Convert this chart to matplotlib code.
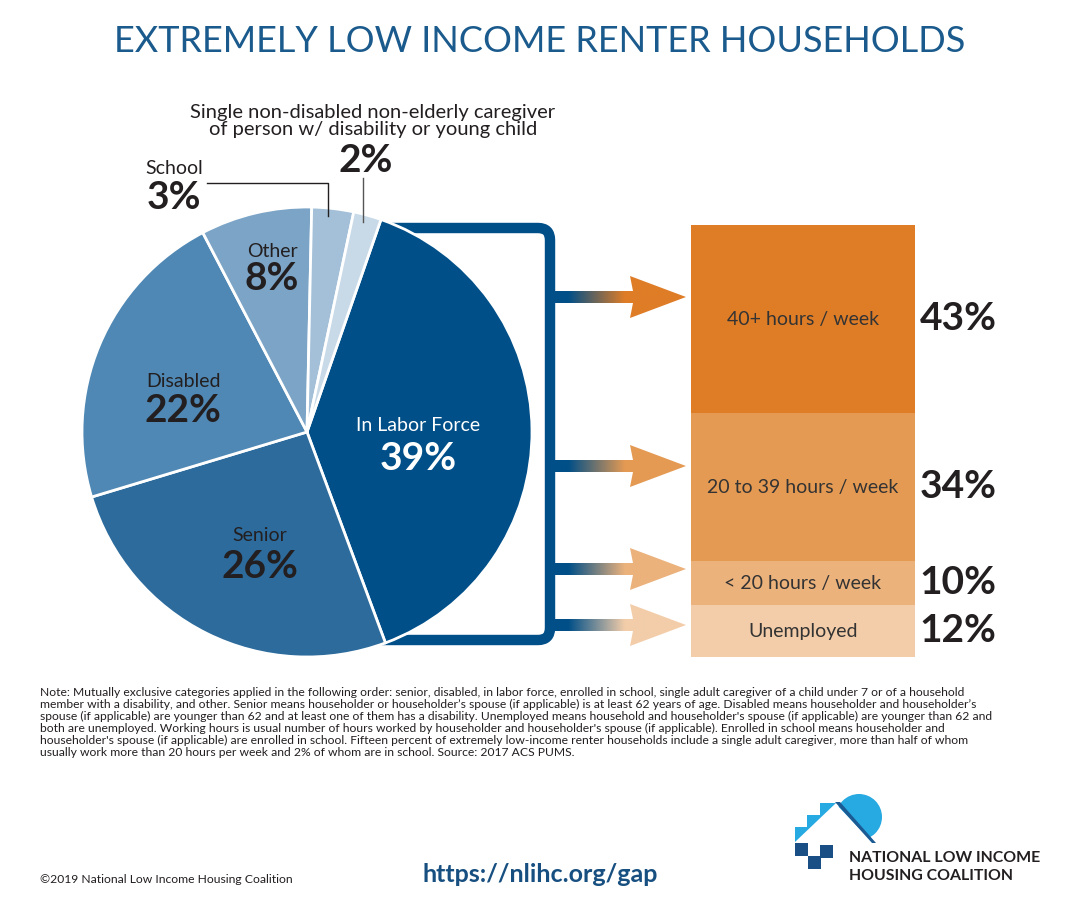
import matplotlib
matplotlib.use("Agg")
import matplotlib.pyplot as plt
import numpy as np
from matplotlib.patches import Polygon, Circle, Rectangle, PathPatch
from matplotlib.path import Path

plt.rcParams['font.family'] = ['Lato', 'DejaVu Sans']

# ---------------- data ----------------
title = "EXTREMELY LOW INCOME RENTER HOUSEHOLDS"
pie_labels = ["In Labor Force", "Senior", "Disabled", "Other", "School",
              "Single non-disabled non-elderly caregiver\nof person w/ disability or young child"]
pie_values = [39, 26, 22, 8, 3, 2]
pie_colors = ["#004f88", "#2c6b9c", "#4f88b4", "#7ba4c6", "#a3c0d8", "#c8d9e8"]

work_labels = ["40+ hours / week", "20 to 39 hours / week", "< 20 hours / week", "Unemployed"]
work_values = [43, 34, 10, 12]
work_colors = ["#df7d27", "#e59a53", "#ecb27c", "#f3cda9"]

note_lines = [
    "Note: Mutually exclusive categories applied in the following order: senior, disabled, in labor force, enrolled in school, single adult caregiver of a child under 7 or of a household",
    "member with a disability, and other. Senior means householder or householder\u2019s spouse (if applicable) is at least 62 years of age. Disabled means householder and householder\u2019s",
    "spouse (if applicable) are younger than 62 and at least one of them has a disability. Unemployed means household and householder's spouse (if applicable) are younger than 62 and",
    "both are unemployed. Working hours is usual number of hours worked by householder and householder's spouse (if applicable). Enrolled in school means householder and",
    "householder's spouse (if applicable) are enrolled in school. Fifteen percent of extremely low-income renter households include a single adult caregiver, more than half of whom",
    "usually work more than 20 hours per week and 2% of whom are in school. Source: 2017 ACS PUMS.",
]
copyright_text = "\u00a92019 National Low Income Housing Coalition"
url_text = "https://nlihc.org/gap"
org_lines = ["NATIONAL LOW INCOME", "HOUSING COALITION"]

# ---------------- figure ----------------
W, H = 1078, 921
fig = plt.figure(figsize=(W / 100, H / 100), dpi=100)
ax = fig.add_axes([0, 0, 1, 1])

DARK = "#231f20"
BLUE = "#004f88"
TITLE_BLUE = "#1a5a8c"
PCT = 28

# bracket (behind pie)
verts = [(330, 228), (538, 228), (550, 228), (550, 240), (550, 628), (550, 640), (538, 640), (330, 640)]
codes = [Path.MOVETO, Path.LINETO, Path.CURVE3, Path.CURVE3, Path.LINETO, Path.CURVE3, Path.CURVE3, Path.LINETO]
ax.add_patch(PathPatch(Path(verts, codes), fill=False, edgecolor=BLUE, lw=7.5,
                       capstyle='butt', joinstyle='round', zorder=1))

# pie (y axis inverted -> data counterclockwise is visually clockwise)
cx, cy, R = 307, 432, 225
wedges, _ = ax.pie(pie_values, colors=pie_colors, startangle=-70.8, counterclock=True,
                   center=(cx, cy), radius=R, frame=True,
                   wedgeprops=dict(edgecolor="white", linewidth=2, zorder=3))

# pie labels
ax.text(418, 425, pie_labels[0], color="white", fontsize=14, ha="center", va="center", zorder=5)
ax.text(418, 458, f"{pie_values[0]}%", color="white", fontsize=PCT, fontweight="bold", ha="center", va="center", zorder=5)
ax.text(260, 535, pie_labels[1], color=DARK, fontsize=14, ha="center", va="center", zorder=5)
ax.text(260, 566, f"{pie_values[1]}%", color=DARK, fontsize=PCT, fontweight="bold", ha="center", va="center", zorder=5)
ax.text(183, 381, pie_labels[2], color=DARK, fontsize=14, ha="center", va="center", zorder=5)
ax.text(183, 410, f"{pie_values[2]}%", color=DARK, fontsize=PCT, fontweight="bold", ha="center", va="center", zorder=5)
ax.text(272, 251, pie_labels[3], color=DARK, fontsize=14, ha="center", va="center", zorder=5)
ax.text(272, 278, f"{pie_values[3]}%", color=DARK, fontsize=PCT, fontweight="bold", ha="center", va="center", zorder=5)
ax.text(174, 168, pie_labels[4], color=DARK, fontsize=14, ha="center", va="center", zorder=5)
ax.text(174, 197, f"{pie_values[4]}%", color=DARK, fontsize=PCT, fontweight="bold", ha="center", va="center", zorder=5)
ax.text(373, 121, pie_labels[5], color=DARK, fontsize=14.5, ha="center", va="center",
        linespacing=0.95, zorder=5)
ax.text(366, 160, f"{pie_values[5]}%", color=DARK, fontsize=PCT, fontweight="bold", ha="center", va="center", zorder=5)

# leader lines
ax.plot([207, 328, 328], [183, 183, 216], color=DARK, lw=1, zorder=6)
ax.plot([363, 363], [178, 222], color="#555555", lw=1, zorder=6)

# stacked bar
scale = 432 / sum(work_values)
top = 225
bottoms = top + scale * np.concatenate([[0], np.cumsum(work_values)[:-1]])
heights = scale * np.array(work_values)
bar_x, bar_w = 803, 224
ax.bar([bar_x] * len(work_values), heights, bottom=bottoms, width=bar_w,
       color=work_colors, edgecolor="none", zorder=2)
for lab, v, b, h in zip(work_labels, work_values, bottoms, heights):
    ax.text(bar_x, b + h / 2 + 1, lab, fontsize=14, color="#333333", ha="center", va="center", zorder=5)
    ax.text(958, b + h / 2, f"{v}%", fontsize=PCT, fontweight="bold", color=DARK,
            ha="center", va="center", zorder=5)

# gradient arrows
arrow_y = [297, 466, 569, 625]
x0, xs, xt = 555, 633, 686
sh, hh = 6, 21
blue_rgb = np.array(matplotlib.colors.to_rgb(BLUE))
for ay, col in zip(arrow_y, work_colors):
    crgb = np.array(matplotlib.colors.to_rgb(col))
    poly = Polygon([(x0, ay - sh), (xs, ay - sh), (xs - 3, ay - hh), (xt, ay),
                    (xs - 3, ay + hh), (xs, ay + sh), (x0, ay + sh)],
                   closed=True, facecolor="none", edgecolor="none", zorder=4)
    ax.add_patch(poly)
    xx = np.linspace(x0, xt, 200)
    t = np.clip((xx - 568) / (625 - 568), 0, 1)
    img = (1 - t)[:, None] * blue_rgb + t[:, None] * crgb
    img = img[None, :, :]
    im = ax.imshow(img, extent=(x0, xt, ay + hh, ay - hh), aspect="auto",
                   interpolation="bilinear", zorder=4)
    im.set_clip_path(poly)

# title
ax.text(540, 42, title, fontsize=26, color=TITLE_BLUE, ha="center", va="center")

# note
for i, line in enumerate(note_lines):
    ax.text(40, 692 + 12 * i, line, fontsize=8.7, color=DARK, ha="left", va="center")

# footer
ax.text(40, 879, copyright_text, fontsize=8.7, color=DARK, ha="left", va="center")
ax.text(540, 874, url_text, fontsize=18, fontweight="bold", color="#174f80", ha="center", va="center")

# logo
LB = "#27a9e1"
DB = "#1b5a93"
ax.add_patch(Circle((859, 817), 23, facecolor=LB, edgecolor="none", zorder=6))
ax.add_patch(Polygon([(834, 802), (878, 848), (834, 848)], closed=True,
                     facecolor="white", edgecolor="none", zorder=7))
ax.add_patch(Polygon([(795, 842), (795, 827), (807, 827), (807, 815), (820, 815),
                      (820, 803), (836, 803), (795, 842)], closed=True,
                     facecolor=LB, edgecolor="none", zorder=8))
ax.add_patch(Polygon([(835, 802), (840, 802), (876, 843), (872, 843)], closed=True,
                     facecolor=DB, edgecolor="none", zorder=8))
for (rx, ry) in [(795, 843), (808, 856), (820, 845)]:
    ax.add_patch(Rectangle((rx, ry), 12.5, 12.5, facecolor="#1a4f86", edgecolor="none", zorder=8))
ax.text(849, 858, org_lines[0], fontsize=11.4, fontweight="bold", color=DARK, ha="left", va="center")
ax.text(849, 876, org_lines[1], fontsize=11.4, fontweight="bold", color=DARK, ha="left", va="center")

ax.set_xlim(0, W)
ax.set_ylim(H, 0)
ax.set_aspect("equal")
ax.axis("off")

fig.savefig("out.png", dpi=100, facecolor="white")
